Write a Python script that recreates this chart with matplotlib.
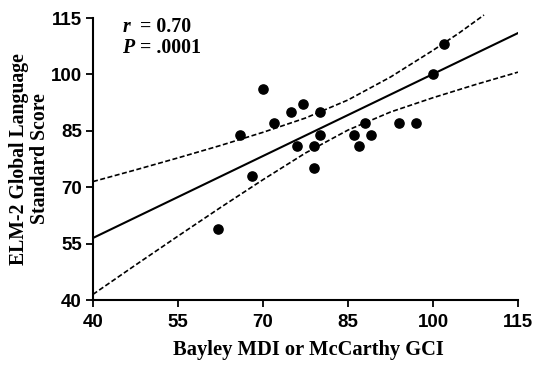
import matplotlib
matplotlib.use('Agg')
import matplotlib.pyplot as plt

# scores
bayley = [62, 66, 68, 70, 72, 75, 76, 77, 79, 79, 80, 80, 86, 87, 88, 89, 94, 97, 100, 102]
elm = [59, 84, 73, 96, 87, 90, 81, 92, 81, 75, 90, 84, 84, 81, 87, 84, 87, 87, 100, 108]

# regression line and 95% band, as drawn in the reference
fit_x = [40, 115]
fit_y = [56.5, 111.0]
band_x = [40, 47.5, 55, 62.5, 70, 77.5, 85, 92.5, 100, 107.5, 115]
band_low = [41.5, 49.3, 57.0, 64.6, 72.0, 79.1, 85.2, 90.0, 93.8, 97.3, 100.6]
band_up_x = [40, 47.5, 55, 62.5, 70, 77.5, 85, 92.5, 100, 104.5, 109]
band_up = [71.5, 74.6, 77.8, 81.1, 84.6, 88.4, 93.2, 99.3, 106.4, 110.9, 115.8]

ticks = [40, 55, 70, 85, 100, 115]

fig = plt.figure(figsize=(5.36, 3.66), dpi=100)
ax = fig.add_axes([0.1735, 0.1803, 0.7929, 0.7705])

ax.scatter(bayley, elm, s=44, color='black', zorder=3)
ax.plot(fit_x, fit_y, color='black', linewidth=1.5)
ax.plot(band_x, band_low, color='black', linewidth=1.2, linestyle=(0, (3, 1.5)))
ax.plot(band_up_x, band_up, color='black', linewidth=1.2, linestyle=(0, (3, 1.5)), clip_on=False)

ax.set_xlim(40, 115)
ax.set_ylim(40, 115)
ax.set_xticks(ticks)
ax.set_yticks(ticks)

for s in ['top', 'right']:
    ax.spines[s].set_visible(False)
for s in ['left', 'bottom']:
    ax.spines[s].set_linewidth(1.5)
ax.tick_params(direction='out', length=5, width=1.3, pad=3)
ax.tick_params(axis='x', pad=5)
for lab in ax.get_xticklabels() + ax.get_yticklabels():
    lab.set_fontfamily('Liberation Sans')
    lab.set_fontweight('bold')
    lab.set_fontsize(13.5)

ax.set_xlabel('Bayley MDI or McCarthy GCI', fontfamily='Liberation Serif',
              fontweight='bold', fontsize=14.8, va='center')
ax.xaxis.set_label_coords(0.506, -0.177)
ax.set_ylabel('ELM-2 Global Language\nStandard Score', fontfamily='Liberation Serif',
              fontweight='bold', fontsize=14.2, linespacing=1.05)
ax.yaxis.set_label_coords(-0.101, 0.5)

ax.text(45.3, 112.7, 'r', fontfamily='Liberation Serif', fontweight='bold',
        fontstyle='italic', fontsize=14.3, va='center')
ax.text(48.3, 112.7, '= 0.70', fontfamily='Liberation Serif', fontweight='bold',
        fontsize=14.3, va='center')
ax.text(45.2, 106.9, 'P', fontfamily='Liberation Serif', fontweight='bold',
        fontstyle='italic', fontsize=14.3, va='center')
ax.text(48.3, 106.9, '= .0001', fontfamily='Liberation Serif', fontweight='bold',
        fontsize=14.3, va='center')

fig.savefig('out.png', dpi=100)
